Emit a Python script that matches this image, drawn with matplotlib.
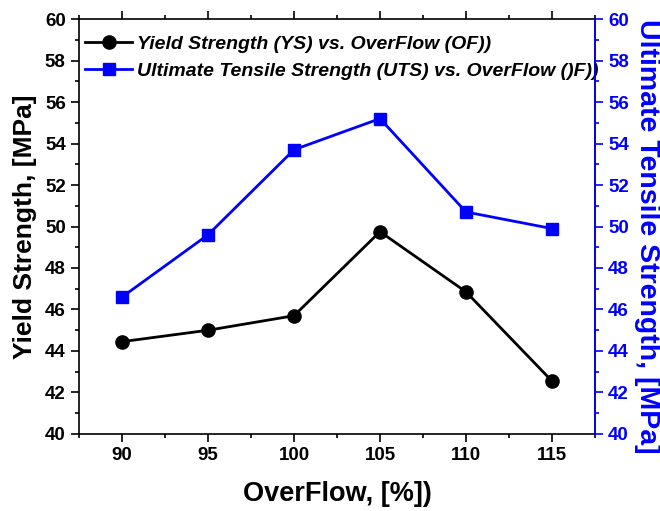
import matplotlib.pyplot as plt
from matplotlib.ticker import MultipleLocator

plt.rcParams['font.family'] = ['Liberation Sans', 'DejaVu Sans']
plt.rcParams['font.weight'] = 'bold'

overflow = [90, 95, 100, 105, 110, 115]
ys = [44.45, 45.0, 45.7, 49.75, 46.85, 42.55]
uts = [46.6, 49.6, 53.7, 55.2, 50.7, 49.9]

fig = plt.figure(figsize=(6.6, 5.11), dpi=100)
ax = fig.add_axes([0.1197, 0.1507, 0.7818, 0.8121])
ax2 = ax.twinx()

l1, = ax.plot(overflow, ys, color='black', marker='o', markersize=9.5, linewidth=2,
              label='Yield Strength (YS) vs. OverFlow (OF))')
l2, = ax2.plot(overflow, uts, color='#0000ff', marker='s', markersize=8.5, linewidth=2,
               label='Ultimate Tensile Strength (UTS) vs. OverFlow ()F))')

ax.set_xlim(87.5, 117.5)
ax.set_ylim(40, 60)
ax2.set_ylim(40, 60)

ax.xaxis.set_major_locator(MultipleLocator(5))
ax.xaxis.set_minor_locator(MultipleLocator(2.5))
for a in (ax, ax2):
    a.yaxis.set_major_locator(MultipleLocator(2))
    a.yaxis.set_minor_locator(MultipleLocator(1))

ax.tick_params(axis='x', which='both', direction='out', top=True, labeltop=False, labelsize=13.5)
ax.tick_params(axis='x', which='major', length=6, width=1.2)
ax.tick_params(axis='x', which='minor', length=3, width=1.2)
ax.tick_params(axis='y', which='major', direction='out', length=6, width=1.2, right=False, labelsize=13.5)
ax.tick_params(axis='y', which='minor', direction='out', length=3, width=1.2, right=False)
ax2.tick_params(axis='y', which='major', direction='out', length=6, width=1.2, colors='#0000ff', labelsize=13.5)
ax2.tick_params(axis='y', which='minor', direction='out', length=3, width=1.2, colors='#0000ff')

for s in ax.spines.values():
    s.set_linewidth(1.2)
ax2.spines['right'].set_color('#0000ff')
ax2.spines['right'].set_linewidth(1.2)
ax2.spines['left'].set_visible(False)
ax2.spines['top'].set_visible(False)
ax2.spines['bottom'].set_visible(False)

ax.set_xlabel('OverFlow, [%])', fontsize=19.5, fontweight='bold', labelpad=12)
ax.set_ylabel('Yield Strength, [MPa]', fontsize=19, fontweight='bold', labelpad=6)
ax2.set_ylabel('Ultimate Tensile Strength, [MPa]', fontsize=20.5, fontweight='bold',
               color='#0000ff', rotation=270, va='bottom', ha='center')
ax2.yaxis.set_label_coords(1.075, 0.476)

ax.legend(handles=[l1, l2], loc='upper left', bbox_to_anchor=(0.005, 0.97),
          frameon=False, prop={'size': 14, 'weight': 'bold', 'style': 'italic'},
          handlelength=2.4, handletextpad=0.25, borderaxespad=0, borderpad=0.2,
          labelspacing=0.5)

fig.savefig('out.png', dpi=100)
